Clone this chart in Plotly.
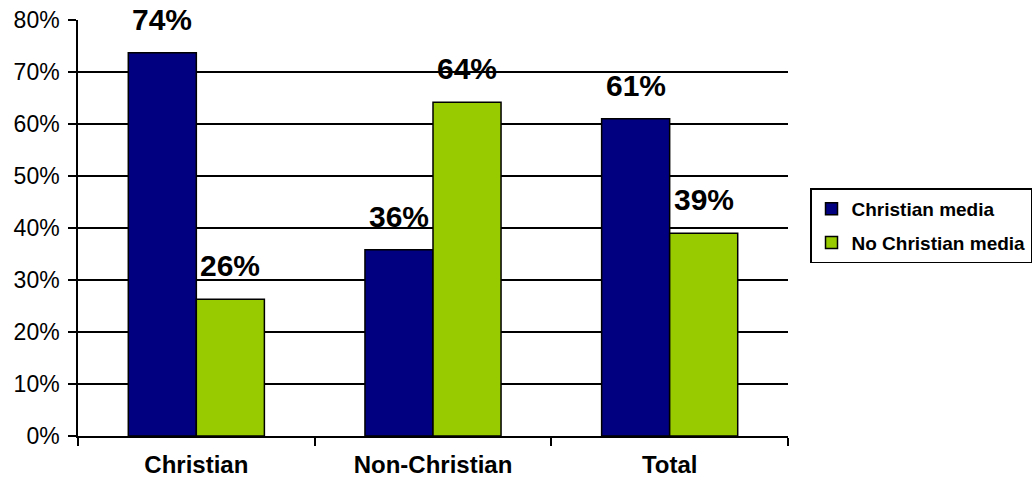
import plotly.graph_objects as go

categories = ["Christian", "Non-Christian", "Total"]
christian_media = [73.7, 35.8, 61.0]
no_christian_media = [26.3, 64.2, 39.0]
series_names = ["Christian media", "No Christian media"]
colors = ["#000080", "#99CC00"]
y_ticks = [0, 10, 20, 30, 40, 50, 60, 70, 80]

W, H = 1032, 487
ML, MR, MT, MB = 78, 244, 20, 51
plot_w = W - ML - MR
bargap = 0.425
bar_px = plot_w / len(categories) * (1 - bargap) / 2

fig = go.Figure()
for name, vals, col in zip(series_names, [christian_media, no_christian_media], colors):
    fig.add_trace(go.Bar(
        x=categories, y=vals, name=name, legendgroup=name,
        marker=dict(color=col, line=dict(color="black", width=1.5)),
    ))

annotations = []
for i, vals in enumerate([christian_media, no_christian_media]):
    shift = (i - 0.5) * bar_px
    for c, v in zip(categories, vals):
        annotations.append(dict(
            x=c, y=v, xref="x", yref="y", text=f"{round(v)}%",
            showarrow=False, xshift=shift, yanchor="bottom", yshift=15,
            font=dict(family="Liberation Sans, Arial", size=30, color="black", weight="bold"),
        ))

fig.update_layout(
    width=W, height=H,
    margin=dict(l=ML, r=MR, t=MT, b=MB, pad=0, autoexpand=False),
    paper_bgcolor="white", plot_bgcolor="white",
    barmode="group", bargap=bargap, bargroupgap=0,
    font=dict(family="Liberation Sans, Arial", color="black"),
    annotations=annotations,
    showlegend=True,
    legend=dict(
        x=1.031, y=0.505, xanchor="left", yanchor="middle",
        bordercolor="black", borderwidth=1.5, bgcolor="white",
        font=dict(size=19, weight="bold", family="Liberation Sans, Arial"),
        tracegroupgap=6, itemwidth=30,
    ),
    xaxis=dict(
        showline=True, linecolor="black", linewidth=1.5,
        ticks="outside", ticklen=8, tickcolor="black", tickwidth=1.5,
        tickson="boundaries", ticklabelstandoff=6, automargin=False,
        tickfont=dict(size=24, weight="bold"),
        showgrid=False,
    ),
    yaxis=dict(
        range=[0, 80], tickvals=y_ticks, ticktext=[f"{t}%" for t in y_ticks],
        showline=True, linecolor="black", linewidth=1.5,
        ticks="outside", ticklen=8, tickcolor="black", tickwidth=1.5,
        showgrid=True, gridcolor="black", gridwidth=1.5, automargin=False,
        tickfont=dict(size=23), ticklabelstandoff=4,
        zeroline=False,
    ),
)

fig.write_html("out.html")
